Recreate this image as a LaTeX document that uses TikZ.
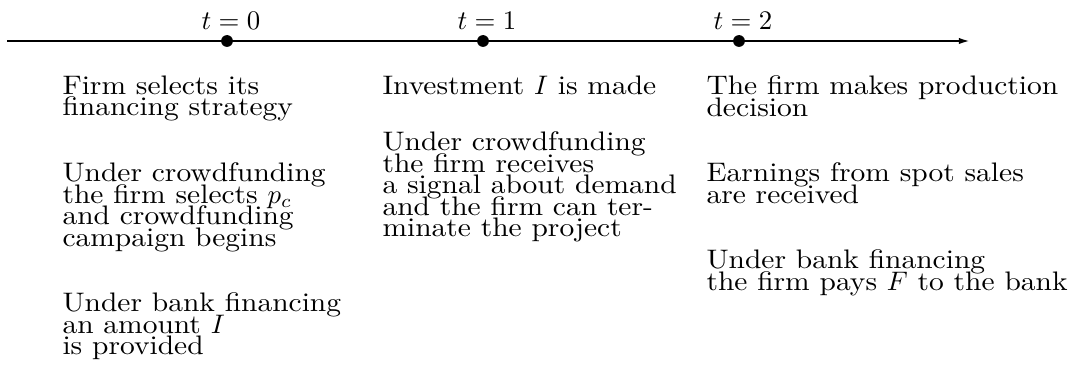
\documentclass[tikz,border=0pt]{standalone}
\usepackage{fontspec}
\setmainfont{lmroman10-regular.otf}[FakeStretch=1.1, ItalicFont=lmroman10-italic.otf, BoldFont=lmroman10-bold.otf]
\usetikzlibrary{positioning,arrows.meta}
\newcommand\parafont{\fontsize{10}{8.06}\selectfont\setlength{\lineskiplimit}{-20pt}}
\begin{document}
\begin{tikzpicture}[x=0.3731pt,y=-0.3731pt,
  every node/.style={inner sep=0pt},
  para/.style={align=left, anchor=north west, font=\parafont},
  tlabel/.style={anchor=base, font=\fontsize{10}{12}\selectfont},
  dot/.style={circle, fill=black, minimum size=4.4pt}]
\useasboundingbox (0,0) rectangle (1073,366);
% Time axis
\coordinate (start) at (7,41);
\coordinate (end) at (970,41);
\draw[line width=0.75pt, -{Latex[length=4.2pt,width=2.4pt]}] (start) -- (end);

% Dates
\node[dot] (d0) at (227,41) {};
\node[dot] (d1) at (483,41) {};
\node[dot] (d2) at (739,41) {};
\node[tlabel] (l0) at (231,30) {$t=0$};
\node[tlabel] (l1) at (487,30) {$t=1$};
\node[tlabel] (l2) at (743,30) {$t=2$};

% Column t=0
\node[para] (a1) at (62,75) {Firm selects its\\financing strategy};
\node[para] (a2) at (62,162) {Under crowdfunding\\the firm selects $p_c$\\and crowdfunding\\campaign begins};
\node[para] (a3) at (62,292) {Under bank financing\\an amount $I$\\is provided};

% Column t=1
\node[para] (b1) at (382,75) {Investment $I$ is made};
\node[para] (b2) at (382,131) {Under crowdfunding\\the firm receives\\a signal about demand\\and the firm can ter-\\minate the project};

% Column t=2
\node[para] (c1) at (706,75) {The firm makes production\\decision};
\node[para] (c2) at (706,162) {Earnings from spot sales\\are received};
\node[para] (c3) at (706,249) {Under bank financing\\the firm pays $F$ to the bank};
\end{tikzpicture}
\end{document}
